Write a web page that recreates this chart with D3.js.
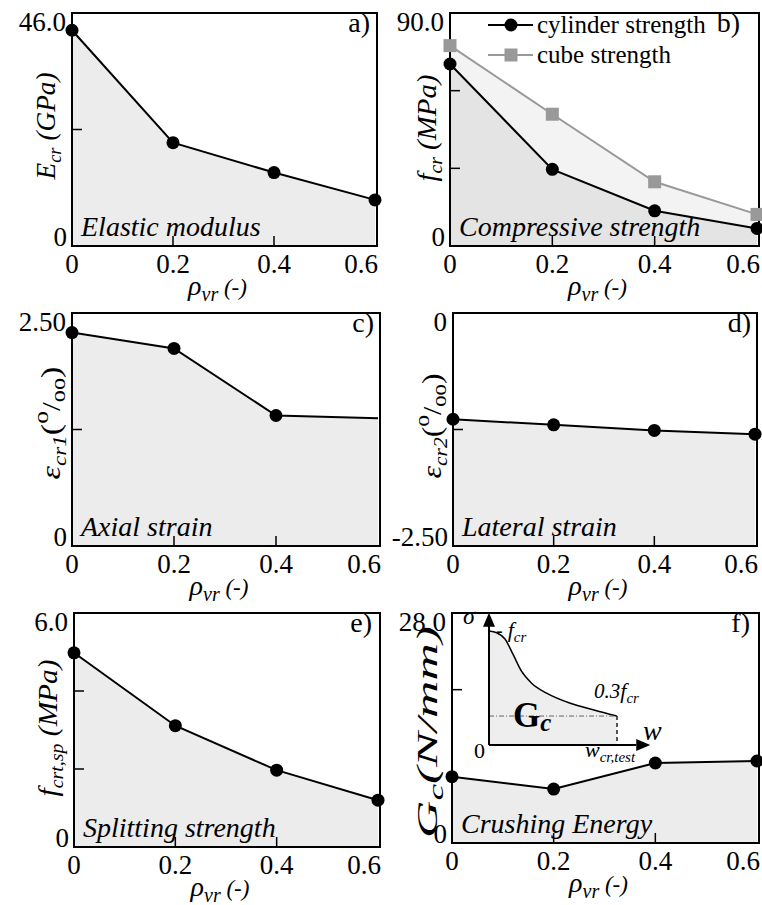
<!DOCTYPE html>
<html>
<head>
<meta charset="utf-8">
<script src="https://cdn.jsdelivr.net/npm/d3@7"></script>
<style>
  body { margin: 0; background: #fff; }
  svg { display: block; }
  text { font-family: "Liberation Serif", "DejaVu Serif", serif; }
</style>
</head>
<body>
<div id="chart"></div>
<script>
// data
var rho = [0, 0.2, 0.4, 0.6]
var xTickLabels = ['0', '0.2', '0.4', '0.6']
var elasticModulus = [42.6, 20.4, 14.5, 9.1]
var cylinderStrength = [70.3, 29.6, 13.6, 6.8]
var cubeStrength = [77.4, 50.9, 24.8, 12.2]
var axialStrain = [2.29, 2.12, 1.40, 1.37]
var lateralStrain = [-1.14, -1.20, -1.26, -1.30]
var splittingStrength = [4.98, 3.11, 1.97, 1.20]
var crushingEnergy = [8.07, 6.57, 9.74, 9.98]

// schematic softening curve of the inset (normalised w, sigma/fcr)
var insetW = [0, 0.06, 0.125, 0.19, 0.255, 0.335, 0.45, 0.635, 0.82, 1.0]
var insetSigma = [1.0, 0.985, 0.93, 0.79, 0.645, 0.54, 0.455, 0.366, 0.307, 0.254]

var svg = d3
  .select('#chart')
  .append('svg')
  .attr('width', 762)
  .attr('height', 905)
  .attr('font-family', 'Liberation Serif, DejaVu Serif, serif')

// rich text: segments with size / italic / baseline offset
function rich(sel, segs) {
  var prev = 0
  segs.forEach(function(s) {
    var off = s.off || 0
    sel
      .append('tspan')
      .text(s.t)
      .attr('dy', off - prev)
      .attr('font-size', s.size || 28)
      .attr('font-style', s.italic === false ? 'normal' : 'italic')
      .attr('font-weight', s.bold ? 'bold' : 'normal')
    prev = off
  })
  return sel
}

function drawPanel(p) {
  var b = p.box
  var x = d3.scaleLinear().domain([0, 0.6]).range([b.left, b.right - 2])
  var y = d3.scaleLinear().domain(p.yDomain).range([b.bottom, b.top])
  var g = svg.append('g')

  var area = d3
    .area()
    .x(function(d, i) { return x(rho[i]) })
    .y0(y(p.yDomain[0]))
    .y1(function(d) { return y(d) })
  var line = d3
    .line()
    .x(function(d, i) { return x(rho[i]) })
    .y(function(d) { return y(d) })

  p.series.forEach(function(s) {
    g.append('path').datum(s.values).attr('d', area).attr('fill', s.fill)
  })

  if (p.extra) p.extra(g)

  // caption
  g.append('text')
    .attr('x', b.left + 9)
    .attr('y', b.bottom - 10)
    .attr('font-size', 28)
    .attr('font-style', 'italic')
    .text(p.caption)

  // inner ticks
  g.selectAll('.xt')
    .data([0.2, 0.4])
    .enter()
    .append('line')
    .attr('x1', function(d) { return x(d) })
    .attr('x2', function(d) { return x(d) })
    .attr('y1', b.bottom)
    .attr('y2', b.bottom - 10)
    .attr('stroke', 'black')
    .attr('stroke-width', 1.5)
  g.selectAll('.yt')
    .data(p.yTicks)
    .enter()
    .append('line')
    .attr('x1', b.left)
    .attr('x2', b.left + 10)
    .attr('y1', function(d) { return y(d) })
    .attr('y2', function(d) { return y(d) })
    .attr('stroke', 'black')
    .attr('stroke-width', 1.5)

  // frame
  g.append('rect')
    .attr('x', b.left)
    .attr('y', b.top)
    .attr('width', b.right - b.left)
    .attr('height', b.bottom - b.top)
    .attr('fill', 'none')
    .attr('stroke', 'black')
    .attr('stroke-width', 2)

  p.series.forEach(function(s) {
    g.append('path')
      .datum(s.values)
      .attr('d', line)
      .attr('fill', 'none')
      .attr('stroke', s.stroke)
      .attr('stroke-width', 2)
    var pts = s.values.slice(0, s.markers || s.values.length)
    if (s.square) {
      g.selectAll(null)
        .data(pts)
        .enter()
        .append('rect')
        .attr('x', function(d, i) { return x(rho[i]) - 6.5 })
        .attr('y', function(d) { return y(d) - 6.5 })
        .attr('width', 13)
        .attr('height', 13)
        .attr('fill', s.stroke)
    } else {
      g.selectAll(null)
        .data(pts)
        .enter()
        .append('circle')
        .attr('cx', function(d, i) { return x(rho[i]) })
        .attr('cy', function(d) { return y(d) })
        .attr('r', 6.5)
        .attr('fill', s.stroke)
    }
  })

  // tick labels
  g.selectAll('.xl')
    .data(rho)
    .enter()
    .append('text')
    .attr('x', function(d, i) { return i === 3 ? b.right + 1 : x(d) })
    .attr('y', b.bottom + 27)
    .attr('text-anchor', function(d, i) { return i === 3 ? 'end' : 'middle' })
    .attr('font-size', 27)
    .text(function(d, i) { return xTickLabels[i] })
  g.append('text')
    .attr('x', b.left - 6)
    .attr('y', b.top + 18)
    .attr('text-anchor', 'end')
    .attr('font-size', 27)
    .text(p.yTopLabel)
  g.append('text')
    .attr('x', b.left - 5)
    .attr('y', b.bottom)
    .attr('text-anchor', 'end')
    .attr('font-size', 27)
    .text(p.yBottomLabel)

  // panel letter
  g.append('text')
    .attr('x', b.right - p.letterGap)
    .attr('y', b.top + 19)
    .attr('text-anchor', 'end')
    .attr('font-size', 28)
    .text(p.letter)

  // x label
  rich(
    g.append('text')
      .attr('x', (b.left + b.right) / 2 - 7)
      .attr('y', b.bottom + 49)
      .attr('text-anchor', 'middle'),
    [
      { t: 'ρ', size: 28 },
      { t: 'vr', size: 20, off: 6 },
      { t: ' (-)', size: 23, off: 0 }
    ]
  )

  // y label, stretched to the length seen in the figure
  var yl = g.append('g').attr('transform', 'translate(' + p.yLabel.x + ',' + p.yLabel.cy + ') rotate(-90)')
  var t = rich(yl.append('text').attr('text-anchor', 'middle'), p.yLabel.segs)
  var w = t.node().getBBox().width
  t.attr('transform', 'scale(' + p.yLabel.len / w + ',1)')
}

function sub(txt, size) { return { t: txt, size: size || 19, off: 6 } }
function base(txt, size) { return { t: txt, size: size || 28, off: 0 } }
var permille = [
  { t: '(', size: 28, off: 0, italic: false },
  { t: 'o', size: 21, off: -12, italic: false },
  { t: '/', size: 26, off: 0, italic: false },
  { t: 'oo', size: 20, off: 5, italic: false },
  { t: ')', size: 28, off: 0, italic: false }
]

drawPanel({
  box: { left: 72, top: 13, right: 377, bottom: 246 },
  yDomain: [0, 46], yTicks: [23], yTopLabel: '46.0', yBottomLabel: '0',
  series: [{ values: elasticModulus, fill: '#ececec', stroke: 'black' }],
  letter: 'a)', letterGap: 7, caption: 'Elastic modulus',
  yLabel: { x: 55, cy: 126, len: 108, segs: [base('E'), sub('cr'), base(' (GPa)')] }
})

drawPanel({
  box: { left: 450, top: 13, right: 759, bottom: 246 },
  yDomain: [0, 90], yTicks: [30, 60], yTopLabel: '90.0', yBottomLabel: '0',
  series: [
    { values: cubeStrength, fill: '#f3f3f3', stroke: '#999999', square: true },
    { values: cylinderStrength, fill: '#e4e4e4', stroke: 'black' }
  ],
  letter: 'b)', letterGap: 19, caption: 'Compressive strength',
  yLabel: { x: 436, cy: 128, len: 107, segs: [base('f'), sub('cr'), base(' (MPa)')] },
  extra: function(g) {
    var leg = [
      { label: 'cylinder strength', color: 'black', square: false, y: 25 },
      { label: 'cube strength', color: '#999999', square: true, y: 55 }
    ]
    leg.forEach(function(l) {
      g.append('line').attr('x1', 488).attr('x2', 533).attr('y1', l.y).attr('y2', l.y)
        .attr('stroke', l.color).attr('stroke-width', 2)
      if (l.square) {
        g.append('rect').attr('x', 504.5).attr('y', l.y - 6.5).attr('width', 13).attr('height', 13).attr('fill', l.color)
      } else {
        g.append('circle').attr('cx', 511).attr('cy', l.y).attr('r', 6.5).attr('fill', l.color)
      }
      g.append('text').attr('x', 537).attr('y', l.y + 8).attr('font-size', 25).text(l.label)
    })
  }
})

drawPanel({
  box: { left: 72, top: 313, right: 380, bottom: 546 },
  yDomain: [0, 2.5], yTicks: [1.25], yTopLabel: '2.50', yBottomLabel: '0',
  series: [{ values: axialStrain, fill: '#ececec', stroke: 'black', markers: 3 }],
  letter: 'c)', letterGap: 6, caption: 'Axial strain',
  yLabel: { x: 60, cy: 423, len: 113, segs: [base('ε'), sub('cr1')].concat(permille) }
})

drawPanel({
  box: { left: 453, top: 313, right: 757, bottom: 546 },
  yDomain: [-2.5, 0], yTicks: [-1.25], yTopLabel: '0', yBottomLabel: '-2.50',
  series: [{ values: lateralStrain, fill: '#ececec', stroke: 'black' }],
  letter: 'd)', letterGap: 6, caption: 'Lateral strain',
  yLabel: { x: 441, cy: 426, len: 105, segs: [base('ε'), sub('cr2')].concat(permille) }
})

drawPanel({
  box: { left: 74, top: 613, right: 380, bottom: 847 },
  yDomain: [0, 6], yTicks: [2, 4], yTopLabel: '6.0', yBottomLabel: '0',
  series: [{ values: splittingStrength, fill: '#ececec', stroke: 'black' }],
  letter: 'e)', letterGap: 8, caption: 'Splitting strength',
  yLabel: { x: 57, cy: 728, len: 137, segs: [base('f'), sub('crt,sp'), base(' (MPa)')] }
})

drawPanel({
  box: { left: 452, top: 613, right: 759, bottom: 843 },
  yDomain: [0, 28], yTicks: [28 * 2 / 3], yTopLabel: '28.0', yBottomLabel: '0',
  series: [{ values: crushingEnergy, fill: '#ececec', stroke: 'black' }],
  letter: 'f)', letterGap: 9, caption: 'Crushing Energy',
  yLabel: { x: 437, cy: 732, len: 212, segs: [base('G', 29), sub('c', 21), base('(N/mm)', 29)] },
  extra: drawInset
})

function drawInset(g) {
  var ix = d3.scaleLinear().domain([0, 1]).range([489, 617])
  var iy = d3.scaleLinear().domain([0, 1]).range([745, 631])
  var pts = insetW.map(function(w, i) { return [w, insetSigma[i]] })

  g.append('path')
    .datum(pts)
    .attr('d', d3.area().x(function(d) { return ix(d[0]) }).y0(iy(0)).y1(function(d) { return iy(d[1]) }).curve(d3.curveMonotoneX))
    .attr('fill', '#eeeeee')
  g.append('path')
    .datum(pts)
    .attr('d', d3.line().x(function(d) { return ix(d[0]) }).y(function(d) { return iy(d[1]) }).curve(d3.curveMonotoneX))
    .attr('fill', 'none')
    .attr('stroke', 'black')
    .attr('stroke-width', 1.5)

  var last = insetSigma[insetSigma.length - 1]
  g.append('line').attr('x1', ix(0)).attr('x2', ix(1)).attr('y1', iy(last)).attr('y2', iy(last))
    .attr('stroke', '#666').attr('stroke-width', 1).attr('stroke-dasharray', '5,2,1,2')
  g.append('line').attr('x1', ix(1)).attr('x2', ix(1)).attr('y1', iy(last)).attr('y2', iy(0))
    .attr('stroke', 'black').attr('stroke-width', 1.3).attr('stroke-dasharray', '4,3')

  // axes with arrow heads
  g.append('line').attr('x1', ix(0)).attr('x2', ix(0)).attr('y1', iy(0)).attr('y2', iy(1.1))
    .attr('stroke', 'black').attr('stroke-width', 2)
  g.append('line').attr('x1', ix(0)).attr('x2', ix(1.15)).attr('y1', iy(0)).attr('y2', iy(0))
    .attr('stroke', 'black').attr('stroke-width', 2)
  g.append('path')
    .attr('d', 'M' + ix(0) + ',' + iy(1.16) + 'l-6,14h12z')
    .attr('fill', 'black')
  g.append('path')
    .attr('d', 'M' + ix(1.26) + ',' + iy(0) + 'l-14,-6v12z')
    .attr('fill', 'black')

  // labels
  g.append('text').attr('x', 463).attr('y', 624).attr('font-size', 24).attr('font-style', 'italic').text('σ')
  rich(g.append('text').attr('x', 496).attr('y', 637), [
    { t: '- ', size: 20, italic: false }, { t: 'f', size: 22 }, { t: 'cr', size: 15, off: 5 }
  ])
  rich(g.append('text').attr('x', 594).attr('y', 698), [
    { t: '0.3', size: 21 }, { t: 'f', size: 22 }, { t: 'cr', size: 15, off: 5 }
  ])
  rich(g.append('text').attr('x', 513).attr('y', 727), [
    { t: 'G', size: 35, bold: true, italic: false }, { t: 'c', size: 25, bold: true, off: 4 }
  ])
  g.append('text').attr('x', 643).attr('y', 740).attr('font-size', 28).attr('font-style', 'italic').text('w')
  g.append('text').attr('x', 474).attr('y', 758).attr('font-size', 22).text('0')
  rich(g.append('text').attr('x', 585).attr('y', 757), [
    { t: 'w', size: 22 }, { t: 'cr,test', size: 15, off: 5 }
  ])
}
</script>
</body>
</html>
